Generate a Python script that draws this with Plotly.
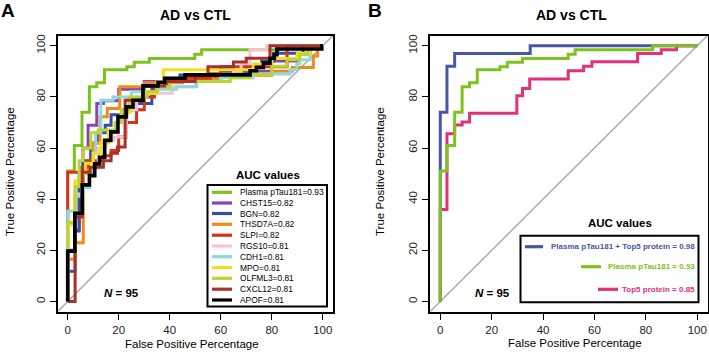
import plotly.graph_objects as go

W, H = 709, 353

# ---------------- data (FPR %, TPR % at each step corner) ----------------
ticks = [0, 20, 40, 60, 80, 100]

# Panel A
a_names = ["Plasma pTau181=0.93", "CHST15=0.82", "BGN=0.82", "THSD7A=0.82", "SLPI=0.82",
           "RGS10=0.81", "CDH1=0.81", "MPO=0.81", "OLFML3=0.81", "CXCL12=0.81", "APOF=0.81"]
a_colors = ["#7dc21e", "#8a44b8", "#3b4ea3", "#f28a1a", "#d8321f",
            "#f7c3cf", "#8fd9dc", "#f3df1d", "#b9d531", "#a8302b", "#000000"]

ptau_fpr = [0, 0, 2.6, 5.6, 8.5, 11.4, 14.4, 23.2, 26.1, 32, 49.8, 52.5, 82.7, 100]
ptau_tpr = [0, 51, 61, 74, 84, 85.5, 90.6, 91.8, 93.5, 95, 96.7, 98.4, 100, 100]

chst15_fpr = [0, 0, 2.9, 4.5, 6, 8, 11.4, 14, 20, 30, 50, 70, 80, 90, 95, 100]
chst15_tpr = [0, 20, 28, 50, 60, 68.9, 77.4, 78.5, 83, 86, 88, 90, 94, 97, 100, 100]

bgn_fpr = [0, 0, 2.9, 4.5, 6, 9, 12, 14.7, 17, 22, 27, 33, 40, 44, 60, 70, 76, 80.6, 92.3, 100]
bgn_tpr = [0, 11.8, 27.6, 45, 55, 62, 66, 68.9, 73, 75, 77.4, 84, 86.5, 88.6, 90, 92, 94, 97.1, 100, 100]

thsd7a_fpr = [0, 0, 2.9, 6.1, 8, 10, 12.7, 15.5, 20.4, 30, 45, 60, 80, 88, 96.3, 98, 100]
thsd7a_tpr = [0, 16.5, 23, 50, 55, 62, 72.2, 75.5, 84, 85.5, 87, 88.5, 90, 91.5, 96, 100, 100]

slpi_fpr = [0, 0, 4.7, 8, 14, 17, 20, 23, 27, 30, 34, 38.8, 55.8, 60, 86, 100]
slpi_tpr = [0, 50.5, 52.5, 55, 57, 59, 64.3, 70, 75, 80, 84, 87.3, 89, 91.8, 100, 100]

rgs10_fpr = [0, 0, 2.9, 5.5, 9, 12, 15, 18, 23, 27, 31, 41, 50, 60, 65, 68, 71.5, 78, 100]
rgs10_tpr = [0, 30, 42, 50, 52, 60, 63, 64.3, 75, 80, 81.4, 84, 86, 88, 90, 93, 98.4, 100, 100]

cdh1_fpr = [0, 0, 2.9, 6.1, 8.6, 10, 11, 13, 17.8, 25, 35, 42.7, 50.6, 60, 72.7, 87.2, 89.8, 91, 95, 100]
cdh1_tpr = [0, 35.4, 41, 44.6, 50, 58, 66, 78.7, 80, 82, 83, 84, 86, 87.5, 88.9, 90.6, 93, 94.5, 100, 100]

mpo_fpr = [0, 0, 2.9, 5, 7, 10, 13, 16, 19, 21, 24.5, 29.6, 35, 37.5, 72.7, 80, 90, 95, 100]
mpo_tpr = [0, 30, 47.2, 50, 54, 58, 62, 66, 70, 74, 78.7, 81.4, 85.8, 90.6, 93, 95, 97, 100, 100]

olfml3_fpr = [0, 0, 2.9, 4.5, 6, 9, 12, 18.6, 21, 24, 31, 35, 40, 63.7, 71.5, 80, 86, 91, 94, 100]
olfml3_tpr = [0, 31, 45, 55, 60, 66, 67, 70, 75, 80, 82, 84, 86, 87.5, 88.9, 92, 94.5, 96.5, 100, 100]

cxcl12_fpr = [0, 2.9, 5.7, 8.8, 14, 17, 19.5, 22.5, 29.6, 38, 50, 55, 65, 70, 79.3, 100]
cxcl12_tpr = [0, 33, 50.5, 52.5, 55, 58, 60.4, 78.7, 84.3, 86, 88.5, 91.8, 93.6, 95.1, 100, 100]

apof_fpr = [0, 0, 2.8, 5.7, 8.5, 10.6, 12.5, 14.5, 16.9, 19.7, 23, 25.6, 29.5, 35.4, 38, 46,
            71.5, 74, 76.7, 79.3, 81, 82, 99.6, 100]
apof_tpr = [0, 19.7, 34.5, 45.6, 49.2, 53.8, 56.4, 63, 66.3, 72.2, 76.1, 78.7, 84.3, 85.6, 87.3, 88.6,
            90.2, 91.5, 93.2, 95.1, 96.5, 98.7, 100, 100]

a_fpr = [ptau_fpr, chst15_fpr, bgn_fpr, thsd7a_fpr, slpi_fpr, rgs10_fpr, cdh1_fpr,
         mpo_fpr, olfml3_fpr, cxcl12_fpr, apof_fpr]
a_tpr = [ptau_tpr, chst15_tpr, bgn_tpr, thsd7a_tpr, slpi_tpr, rgs10_tpr, cdh1_tpr,
         mpo_tpr, olfml3_tpr, cxcl12_tpr, apof_tpr]

# Panel B
b_names = ["Plasma pTau181 + Top5 protein = 0.98", "Plasma pTau181 = 0.93", "Top5 protein = 0.85"]
b_colors = ["#4a55a3", "#7dc21e", "#e0317a"]
combo_fpr = [0, 0, 2.6, 5.6, 35, 100]
combo_tpr = [0, 74, 92, 97, 100, 100]
top5_fpr = [0, 0, 2.6, 5.6, 8.5, 11.4, 29.8, 32, 34.8, 49.8, 55.8, 59, 76.8, 86, 91.9, 100]
top5_tpr = [0, 36, 65.6, 69, 70.2, 73.6, 80.4, 83.3, 87, 90.2, 92, 93.7, 97, 98.4, 100, 100]
b_fpr = [combo_fpr, ptau_fpr, top5_fpr]
b_tpr = [combo_tpr, ptau_tpr, top5_tpr]

# ---------------- helpers ----------------
def px(x):
    return x / W

def py(y):
    return 1 - y / H

FONT = "Liberation Sans, Arial, sans-serif"
fig = go.Figure()

# Panel A traces
for f, t, c in zip(a_fpr, a_tpr, a_colors):
    fig.add_trace(go.Scatter(x=f, y=t, mode="lines", line=dict(color=c, width=3.6 if c == "#000000" else 3, shape="hv"),
                             xaxis="x", yaxis="y", showlegend=False, hoverinfo="skip"))
# Panel B traces (draw order: combo, top5, ptau on top)
for i in [0, 2, 1]:
    fig.add_trace(go.Scatter(x=b_fpr[i], y=b_tpr[i], mode="lines", line=dict(color=b_colors[i], width=3, shape="hv"),
                             xaxis="x2", yaxis="y2", showlegend=False, hoverinfo="skip"))

ax_common = dict(range=[-4, 104], tickvals=ticks, ticks="outside", ticklen=6, tickwidth=1,
                 tickcolor="black", showline=True, linecolor="black", linewidth=2, mirror=True,
                 showgrid=False, zeroline=False, tickfont=dict(family=FONT, size=11.5, color="#222"),
                 fixedrange=True)
ydom = [py(311.7), py(35.5)]
fig.update_layout(
    width=W, height=H, margin=dict(l=0, r=0, t=0, b=0), plot_bgcolor="white", paper_bgcolor="white",
    xaxis=dict(domain=[px(57.5), px(333)], anchor="y", **ax_common),
    yaxis=dict(domain=ydom, anchor="x", tickangle=-90, **ax_common),
    xaxis2=dict(domain=[px(430), px(707.5)], anchor="y2", **ax_common),
    yaxis2=dict(domain=ydom, anchor="x2", tickangle=-90, **ax_common),
    font=dict(family=FONT),
)

shapes = []
# diagonal reference lines
for xr, yr in [("x", "y"), ("x2", "y2")]:
    shapes.append(dict(type="line", xref=xr, yref=yr, x0=-4, y0=-4, x1=104, y1=104,
                       line=dict(color="#a8a8a8", width=1.4), layer="below"))

ann = []
def text(x, y, s, size, color="black", xanchor="center", angle=0):
    ann.append(dict(x=px(x), y=py(y), xref="paper", yref="paper", text=s, showarrow=False,
                    xanchor=xanchor, yanchor="middle", textangle=angle,
                    font=dict(family=FONT, size=size, color=color)))

# panel letters and titles
text(8, 10, "<b>A</b>", 19)
text(375, 10, "<b>B</b>", 19)
text(195, 15, "<b>AD vs CTL</b>", 14)
text(571, 15, "<b>AD vs CTL</b>", 14)
# axis titles
text(192, 344, "False Positive Percentage", 11.5)
text(575, 343, "False Positive Percentage", 11.5)
text(10, 172, "True Positive Percentage", 11.5, angle=-90)
text(380, 172, "True Positive Percentage", 11.5, angle=-90)
# N = 95
text(121, 293, "<b><i>N</i> = 95</b>", 11.5)
text(492, 293, "<b><i>N</i> = 95</b>", 11.5)

# legend A
text(268, 175, "<b>AUC values</b>", 11.5)
shapes.append(dict(type="rect", xref="paper", yref="paper", x0=px(207.5), x1=px(327), y0=py(306.5), y1=py(185),
                   line=dict(color="black", width=2), fillcolor="white", layer="above"))
row_y = [192.3, 203, 213.5, 224.3, 235.2, 246, 256.7, 267.6, 278.3, 289.2, 300]
for name, c, yy in zip(a_names, a_colors, row_y):
    shapes.append(dict(type="line", xref="paper", yref="paper", x0=px(212), x1=px(232), y0=py(yy), y1=py(yy),
                       line=dict(color=c, width=3.2), layer="above"))
    text(238, yy, name, 8.4, xanchor="left")

# legend B
text(620, 223, "<b>AUC values</b>", 11.5)
shapes.append(dict(type="rect", xref="paper", yref="paper", x0=px(520.5), x1=px(698.5), y0=py(302.3), y1=py(235.7),
                   line=dict(color="black", width=2), fillcolor="white", layer="above"))
b_rows = [246.7, 266.7, 289.3]
b_seg = [(525, 543), (581, 601), (598, 618)]
for name, c, yy, (s0, s1) in zip(b_names, b_colors, b_rows, b_seg):
    shapes.append(dict(type="line", xref="paper", yref="paper", x0=px(s0), x1=px(s1), y0=py(yy), y1=py(yy),
                       line=dict(color=c, width=3.2), layer="above"))
    text(696.5, yy, "<b>" + name + "</b>", 8, color=c, xanchor="right")

fig.update_layout(shapes=shapes, annotations=ann)
fig.write_html("out.html", config={"displayModeBar": False},
               post_script=["document.body.style.margin='0';document.body.style.overflow='hidden';"])
